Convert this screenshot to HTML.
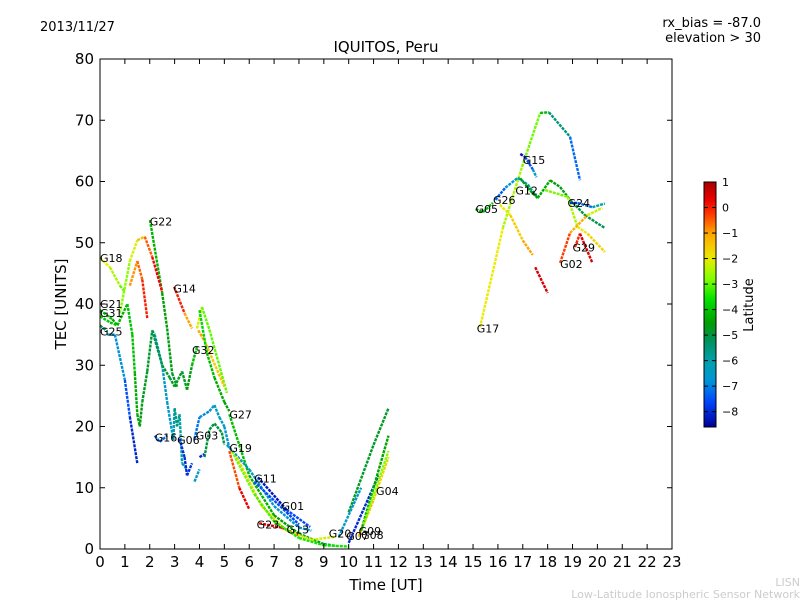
<!DOCTYPE html>
<html><head><meta charset="utf-8"><style>
body{margin:0;background:#fff}
svg text{font-family:"DejaVu Sans","Liberation Sans",sans-serif}
</style></head><body>
<svg id="c" width="800" height="600" xmlns="http://www.w3.org/2000/svg">
<defs><linearGradient id="cbg" x1="0" y1="1" x2="0" y2="0"></linearGradient></defs>
<text x="40" y="31" font-size="13">2013/11/27</text>
<text x="761" y="27" font-size="13" text-anchor="end">rx_bias = -87.0</text>
<text x="761" y="42" font-size="13" text-anchor="end">elevation &gt; 30</text>
<text x="386" y="52" font-size="15" text-anchor="middle">IQUITOS, Peru</text>
<text x="386" y="590" font-size="15" text-anchor="middle">Time [UT]</text>
<text transform="translate(66,304) rotate(-90)" font-size="15" text-anchor="middle">TEC [UNITS]</text>
<text x="800" y="586" font-size="11" fill="#ccc" text-anchor="end">LISN</text>
<text x="800" y="598" font-size="11" fill="#ccc" text-anchor="end">Low-Latitude Ionospheric Sensor Network</text>
<g id="marks"></g>
<rect x="100" y="59" width="572" height="490" fill="none" stroke="#000" stroke-width="1"/>
<g id="axes"></g>
<rect x="704" y="182" width="12" height="245" fill="url(#cbg)" stroke="#000" stroke-width="1"/>
<g id="cbticks"></g>
<text transform="translate(753,305) rotate(-90)" font-size="13" text-anchor="middle">Latitude</text>
</svg>
<script>
const xTicks=[0,1,2,3,4,5,6,7,8,9,10,11,12,13,14,15,16,17,18,19,20,21,22,23];
const yTicks=[0,10,20,30,40,50,60,70,80];
const cbTicks=[1,0,-1,-2,-3,-4,-5,-6,-7,-8];
const latMin=-8.6, latMax=1.0;
const trackNames=["G18","G22","yel1","org1","G14","G32a","G32b","G21","G31","G25","cyanA","G16","tealN","G06","greenN","G03a","G03b","blueD","cyanD","greenD","G27","G19","G11","G01","G23a","G23b","yelB","limeB","upDG","upCy","upBl","upYe","upGr","upLi","G17","G05","yelR","redR","G26","G12","limeR","G15","G24","G02","G29a","G29b"];
const trackT=[
[0,0.4,0.8,1.0],[2.01,2.5,2.7,2.9,3.1],[0.8,1.2,1.5,1.8,2.1,2.5],[1.2,1.5,1.7,1.9],[2.98,3.4,3.7],
[3.9,4.1,4.4,5.1],[3.95,4.2,5.0],[0,0.5,0.7,1.1,1.3,1.4,1.5,1.6],[0,0.4,0.7],[0,0.3],
[0.3,0.6,1.0,1.2,1.5],[2.2,2.4,2.7],[2.1,2.2,2.5,2.7,2.95,3.0,3.1,3.2,3.3,3.5],[3.2,3.4,3.5,3.7],
[1.6,1.7,1.9,2.1,2.5,2.8,3.0,3.3,3.5,3.7,3.9],[3.8,4.0,4.4,4.6,4.8,5.0,5.2],[4.2,4.4,4.6,4.9,5.0],[4.0,4.2],[3.8,4.0],
[4.0,4.3,4.6,5.0,5.2],[5.2,6,7,8,9,9.5],[5.1,6,7,8,8.5],[6.2,7.5,8],[6.35,7.5,8.45],[5.2,5.6,6],[6.4,7.3,8],
[5.5,6.5,7.5,8.5,9.5],[5.3,6.2,7,8,9,10],[10,11,11.6],[9.6,10.5],[10,11.2],[10.4,11,11.6],[10.5,11,11.6],[10.6,11.6],
[15.28,16.2,16.97,17.7,18.05,18.9,19.3],[15.1,15.4,15.8],[16.08,16.5,17.0,17.4],[17.5,18.0],[15.9,16.3,16.8,17.2,17.6],
[16.9,17.3,17.6,18.1,18.5,18.9,19.5,20.3],[17.9,18.8,19.2,19.6,20.3],[16.9,17.09,17.4,17.55],[18.9,19.2,19.8,20.3],
[18.5,18.9,19.6,20.2],[19.1,19.3],[19.3,19.8]];
const trackV=[
[47.5,46,43,42],[53.7,41.8,36,28.7,26.5],[38.5,47,50.4,51,47.7,42],[43,47,44,37.7],[42.8,38.5,36],
[36,39.5,35.8,25.5],[35.7,34,26.5],[39,37.5,36.5,40,35,28.7,22,20],[38,37,36.5],[36.5,35.5],
[35,35,27.6,21.6,14],[18.5,17.5,18.5],[35.7,35,30,24,17.8,23,20,22,14,13],[18,15,12,14],
[20,24,29,35.7,30,28,26.5,29,26,30,33],[18,21.5,22.5,23.5,21.5,20,16.5],[15,19.5,20.5,19,17],[15,15.5],[11,13],
[39,32,28,24,22.5],[22,12,5.5,2.5,0.8,0.5],[17,13,7,3.5,3],[11,6,4],[11.7,6.4,3.6],[16,10,6.5],[4.2,3.5,2.2],
[15,7,3,1.5,2],[16,9,4.5,1.8,0.6,0.4],[6,17,23],[2,10],[1,12],[2,8,15],[3,10,18.5],[4,16],
[36.2,52.4,62.4,71.2,71.3,67.3,60.2],[55.5,55,56.5],[56.2,54.5,50.4,48],[46,41.8],[57,59,60.6,59.5,57.3],
[60.5,58.5,57.3,60.2,59.1,57,54.5,52.4],[58.6,57.5,52.6,51.5,48.5],[64.5,64,62,60.7],[56.5,56.5,55.8,56.4],
[46.7,51.6,54.5,55.7],[49.3,51.5],[51.5,46.7]];
const trackLat=[
[-1.8,-2.2,-2.8,-3.2],[-4,-4.5,-4.5,-4.8,-4.8],[-3,-2.5,-1.8,-1,0,0.5],[-1,-0.8,-0.3,0.3],[0.5,-0.5,-1.5],
[-1.5,-2.8,-3.2,-2.8],[-0.8,-1.2,-1.8],[-4,-4.2,-4.5,-4,-4,-4.2,-4.5,-4.5],[-3.8,-4,-4],[-5,-5.5],
[-6.2,-6.5,-7.2,-7.8,-8.3],[-7.2,-7.3,-7.2],[-6.2,-6.3,-6.3,-6.5,-6.6,-5.6,-5.6,-5.6,-6.3,-6.3],[-7.8,-8,-8,-7.8],
[-4.6,-4.6,-4.8,-5,-5,-4.8,-4.8,-4.8,-4.8,-4.4,-3.8],[-7.3,-7,-6.8,-6.5,-6.5,-6.6,-6.8],[-5,-5,-5,-5,-5],[-8,-8],[-6.5,-6.5],
[-3.5,-4,-4.2,-4.5,-4.6],[-4,-4.2,-4.4,-4.6,-4.8,-5],[-6.3,-6.5,-6.5,-6.8,-6.8],[-7.5,-7.5,-7.8],[-8.2,-8.3,-6.8],[-1,0.2,0.5],[0.5,0.5,0.5],
[-1.5,-1.8,-2,-2.2,-2.2],[-2.8,-3,-3.3,-3.5,-3.5,-3.5],[-4.8,-4.8,-4.8],[-6.5,-6.5],[-8.2,-7.8],[-1.2,-1.5,-1.8],[-4.2,-4.4,-4.5],[-2.8,-2.8],
[-1,-3,-2,-3.8,-4.5,-6.5,-8],[-4.5,-4.5,-3.5],[-2,-2,-1.2,-0.8],[0.5,0.5],[-8,-6.8,-6.5,-6.2,-5],
[-4.6,-4.8,-4.2,-4.5,-4.5,-4.8,-5,-5.2],[-3,-2.8,-2.2,-1.8,-1.5],[-8.3,-8.2,-6.8,-6.5],[-8,-7.8,-6.6,-5.5],
[0,-0.6,-1.8,-2.8],[-0.5,0.3],[0.5,0.5]];
const labelNames=["G18","G22","G14","G21","G31","G25","G32","G16","G06","G03","G27","G19","G11","G01","G23","G13","G20","G07","G08","G09","G04","G17","G05","G26","G12","G15","G24","G29","G02"];
const labelT=[0,2.0,2.95,0,0,0,3.7,2.2,3.1,3.85,5.2,5.2,6.2,7.3,6.3,7.5,9.2,9.9,10.5,10.4,11.1,15.15,15.1,15.8,16.7,17.0,18.8,19.0,18.5];
const labelV=[47.5,53.5,42.5,40,38.5,35.5,32.5,18.2,17.8,18.5,22,16.5,11.5,7,4,3.2,2.5,2.1,2.3,2.9,9.5,36,55.5,57,58.5,63.5,56.5,49.2,46.5];

const NS="http://www.w3.org/2000/svg";
const X0=100,X1=672,Y0=549,Y1=59;
const xs=t=>X0+(X1-X0)*t/23, ys=v=>Y0-(Y0-Y1)*v/80;
// custom colormap stops (lat -> rgb)
const cmapLat=[-8.6,-7.6,-6.8,-6.0,-5.2,-4.5,-3.6,-2.8,-2.0,-1.0,-0.3,0.3,1.0];
const cmapRGB=[[0,0,150],[0,70,255],[0,150,215],[0,160,170],[0,145,90],[0,160,0],[0,225,0],[130,255,0],[235,235,0],[255,165,0],[255,60,0],[235,0,0],[170,0,0]];
function jet(lat){
 lat=Math.max(latMin,Math.min(latMax,lat));
 let k=0;while(k<cmapLat.length-2&&lat>cmapLat[k+1])k++;
 const f=(lat-cmapLat[k])/(cmapLat[k+1]-cmapLat[k]);
 const a=cmapRGB[k],b=cmapRGB[k+1];
 return `rgb(${Math.round(a[0]+(b[0]-a[0])*f)},${Math.round(a[1]+(b[1]-a[1])*f)},${Math.round(a[2]+(b[2]-a[2])*f)})`;}
function mk(tag,attrs,parent){const e=document.createElementNS(NS,tag);for(const k in attrs)e.setAttribute(k,attrs[k]);parent.appendChild(e);return e;}
const marks=document.getElementById('marks'), axes=document.getElementById('axes');
trackNames.forEach((n,i)=>{
 const g=mk('g',{},marks);
 
 
 const T=trackT[i],V=trackV[i],L=trackLat[i];
 for(let k=0;k<T.length-1;k++){
  const s=mk('line',{x1:xs(T[k]),y1:ys(V[k]),x2:xs(T[k+1]),y2:ys(V[k+1]),stroke:jet((L[k]+L[k+1])/2),'stroke-width':2.4,'stroke-dasharray':'3 1'},g);
  
  
 }
});
labelNames.forEach((n,i)=>{
 const t=mk('text',{x:xs(labelT[i]),y:ys(labelV[i])+4,'font-size':11},marks);
 t.textContent=n;
 
 
});
xTicks.forEach(v=>{const x=xs(v);
 mk('line',{x1:x,y1:Y0,x2:x,y2:Y0-5,stroke:'#000'},axes);
 mk('line',{x1:x,y1:Y1,x2:x,y2:Y1+5,stroke:'#000'},axes);
 const t=mk('text',{x:x,y:Y0+18,'font-size':15,'text-anchor':'middle'},axes);t.textContent=v;
 
 
});
yTicks.forEach(v=>{const y=ys(v);
 mk('line',{x1:X0,y1:y,x2:X0+5,y2:y,stroke:'#000'},axes);
 mk('line',{x1:X1,y1:y,x2:X1-5,y2:y,stroke:'#000'},axes);
 const t=mk('text',{x:X0-6,y:y+5,'font-size':15,'text-anchor':'end'},axes);t.textContent=v;
 
 
});
const grad=document.getElementById('cbg');
for(let k=0;k<=40;k++){const lat=latMin+(latMax-latMin)*k/40;mk('stop',{offset:(k*2.5)+'%','stop-color':jet(lat)},grad);}
const cb=document.getElementById('cbticks');
const cbY=lat=>427-245*(lat-latMin)/(latMax-latMin);
cbTicks.forEach(v=>{const y=cbY(v);
 mk('line',{x1:704,y1:y,x2:708,y2:y,stroke:'#000'},cb);
 mk('line',{x1:716,y1:y,x2:712,y2:y,stroke:'#000'},cb);
 const t=mk('text',{x:722,y:y+4,'font-size':11},cb);t.textContent=v===0?'0':(v<0?'\u2212'+(-v):v);
 
 
});
</script>
</body></html>
